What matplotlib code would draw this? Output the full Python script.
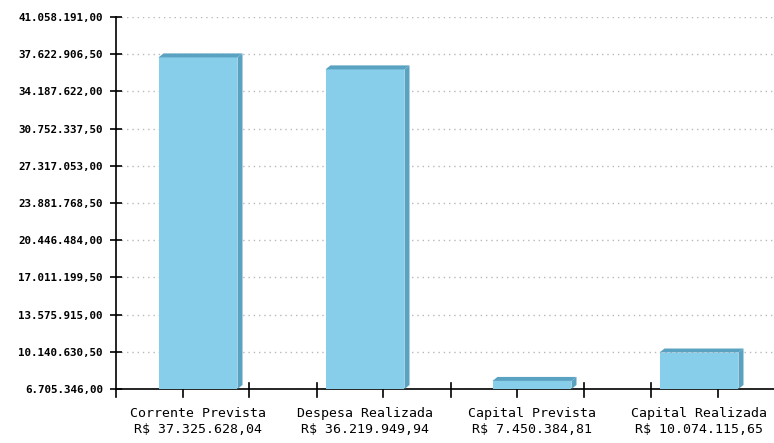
import numpy as np
import matplotlib
matplotlib.use('Agg')
import matplotlib.pyplot as plt
from matplotlib.patches import Polygon

# dados
categorias = ['Corrente Prevista', 'Despesa Realizada', 'Capital Prevista', 'Capital Realizada']
valores = [37325628.04, 36219949.94, 7450384.81, 10074115.65]
y_min = 6705346.00
y_max = 41058191.00
n_ticks = 11

def brl(v):
    s = f"{v:,.2f}"
    return s.replace(',', 'X').replace('.', ',').replace('X', '.')

fig = plt.figure(figsize=(7.74, 4.43), dpi=100)
ax = fig.add_axes([116/774, 54/443, (774-116)/774, (389-17)/443])

x = np.arange(len(categorias))
largura = 0.473
frente = '#87ceeb'
lado = '#5aa2c2'

ax.bar(x, np.array(valores) - y_min, bottom=y_min, width=largura,
       color=frente, zorder=3, linewidth=0)

# efeito 3D (deslocamento em pixels convertido para dados)
px_x = 1/167.0
px_y = (y_max - y_min)/372.0
dx, dy = 5*px_x, 4*px_y
for xi, v in zip(x, valores):
    x0, x1 = xi - largura/2, xi + largura/2
    topo = Polygon([(x0, v), (x0+dx, v+dy), (x1+dx, v+dy), (x1, v)],
                   closed=True, color=lado, zorder=3, linewidth=0)
    lateral = Polygon([(x1, y_min), (x1, v), (x1+dx, v+dy), (x1+dx, y_min+dy)],
                      closed=True, color=lado, zorder=3, linewidth=0)
    ax.add_patch(topo)
    ax.add_patch(lateral)

ax.set_xlim((116-198)/167.0, (774-198)/167.0)
ax.set_ylim(y_min, y_max)

yt = np.linspace(y_min, y_max, n_ticks)
ax.set_yticks(yt)
ax.set_yticklabels([brl(v) for v in yt], fontfamily='DejaVu Sans Mono',
                   fontweight='bold', fontsize=7.85)
ax.yaxis.grid(True, linestyle=(0, (1, 2.8)), color='#b8b8b8', linewidth=1, zorder=0)
ax.set_axisbelow(True)
ax.tick_params(axis='y', direction='inout', length=9, width=1.2, pad=5)

# rotulos das categorias
ax.set_xticks(x)
ax.set_xticklabels([f"{c}\nR$ {brl(v)}" for c, v in zip(categorias, valores)],
                   fontfamily='DejaVu Sans Mono', fontsize=9.5, linespacing=1.3)
ax.tick_params(axis='x', length=0, pad=13)

# marcas do eixo x (estilo do original)
marcas_cruz = [(p-198)/167.0 for p in [249, 317, 451, 584, 651]]
marcas_baixo = [(p-198)/167.0 for p in [183, 383, 517, 718]]
trans = ax.get_xaxis_transform()
for m in marcas_cruz:
    ax.plot([m, m], [-8/372, 6/372], color='black', lw=1.2, transform=trans, clip_on=False)
for m in marcas_baixo:
    ax.plot([m, m], [-8/372, -1/372], color='black', lw=1.2, transform=trans, clip_on=False)
ax.plot([0, 0], [-8/372, 0], color='black', lw=1.2, transform=ax.transAxes, clip_on=False)

for s in ['top', 'right']:
    ax.spines[s].set_visible(False)
ax.spines['left'].set_linewidth(1.2)
ax.spines['bottom'].set_linewidth(1.2)

fig.savefig('out.png', dpi=100)
